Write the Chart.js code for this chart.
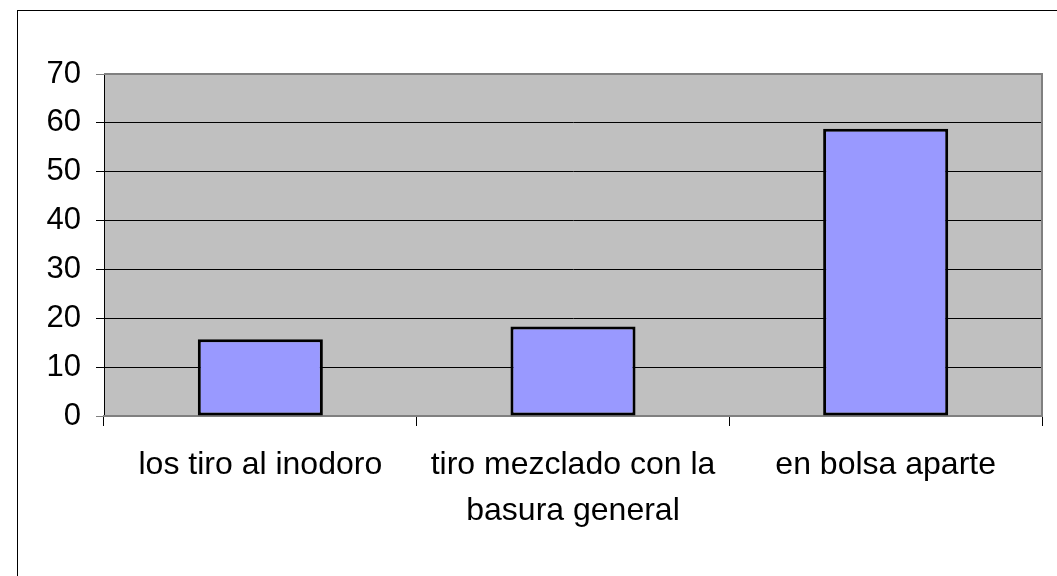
<!DOCTYPE html>
<html>
<head>
<meta charset="utf-8">
<script src="https://cdn.jsdelivr.net/npm/chart.js@4/dist/chart.umd.min.js"></script>
<style>
  html, body { margin: 0; padding: 0; background: #fff; overflow: hidden; }
  #frame { position: absolute; left: 17px; top: 10px; width: 1100px; height: 620px; border: 1px solid #000; }
  #wrap { position: absolute; left: 0; top: 0; width: 1057px; height: 576px; }
</style>
</head>
<body>
<div id="frame"></div>
<div id="wrap"><canvas id="barChart" width="1057" height="576"></canvas></div>
<script>
// données
const categories = ["los tiro al inodoro", ["tiro mezclado con la", "basura general"], "en bolsa aparte"];
const valores = [15.7, 18.3, 58.8];
const yTicks = [0, 10, 20, 30, 40, 50, 60, 70];

// fond gris de la zone de tracé + bordure haut/droite
const plotArea = {
    id: "plotArea",
    beforeDraw(chart) {
        const { ctx, chartArea: a } = chart;
        ctx.save();
        ctx.fillStyle = "#c0c0c0";
        ctx.fillRect(a.left, a.top, a.right - a.left, a.bottom - a.top);
        ctx.restore();
    },
    afterDraw(chart) {
        const { ctx, chartArea: a } = chart;
        ctx.save();
        ctx.strokeStyle = "#808080";
        ctx.lineWidth = 2;
        ctx.beginPath();
        ctx.moveTo(a.left, a.top);
        ctx.lineTo(a.right, a.top);
        ctx.lineTo(a.right, a.bottom);
        ctx.stroke();
        ctx.restore();
    }
};

const ctx = document.getElementById("barChart").getContext("2d");

new Chart(ctx, {
    type: "bar",
    data: {
        labels: categories,
        datasets: [{
            data: valores,
            backgroundColor: "#9999ff",
            borderColor: "#000",
            borderWidth: 3,
            borderSkipped: false,
            categoryPercentage: 1,
            barPercentage: 0.4
        }]
    },
    options: {
        responsive: false,
        animation: false,
        layout: { padding: { left: 0, right: 15, top: 74, bottom: 0 } },
        plugins: {
            legend: { display: false },
            tooltip: { enabled: false }
        },
        scales: {
            y: {
                min: 0,
                max: 70,
                afterBuildTicks(scale) {
                    scale.ticks = yTicks.map(v => ({ value: v }));
                },
                afterFit(scale) { scale.width = 104; },
                border: { color: "#000", width: 1 },
                grid: {
                    color: c => (c.tick && (c.tick.value === 0 || c.tick.value === 70)) ? "#808080" : "#000",
                    lineWidth: 1,
                    tickLength: 8
                },
                ticks: {
                    color: "#000",
                    padding: 15,
                    font: { family: "'Liberation Sans', Arial, sans-serif", size: 31 }
                }
            },
            x: {
                offset: true,
                afterFit(scale) { scale.height = 160; },
                border: { color: "#808080", width: 2 },
                grid: {
                    offset: true,
                    drawOnChartArea: false,
                    color: "#000",
                    tickLength: 10
                },
                ticks: {
                    color: "#000",
                    padding: 16,
                    maxRotation: 0,
                    autoSkip: false,
                    font: { family: "'Liberation Sans', Arial, sans-serif", size: 32, lineHeight: 1.44 }
                }
            }
        }
    },
    plugins: [plotArea]
});
</script>
</body>
</html>
